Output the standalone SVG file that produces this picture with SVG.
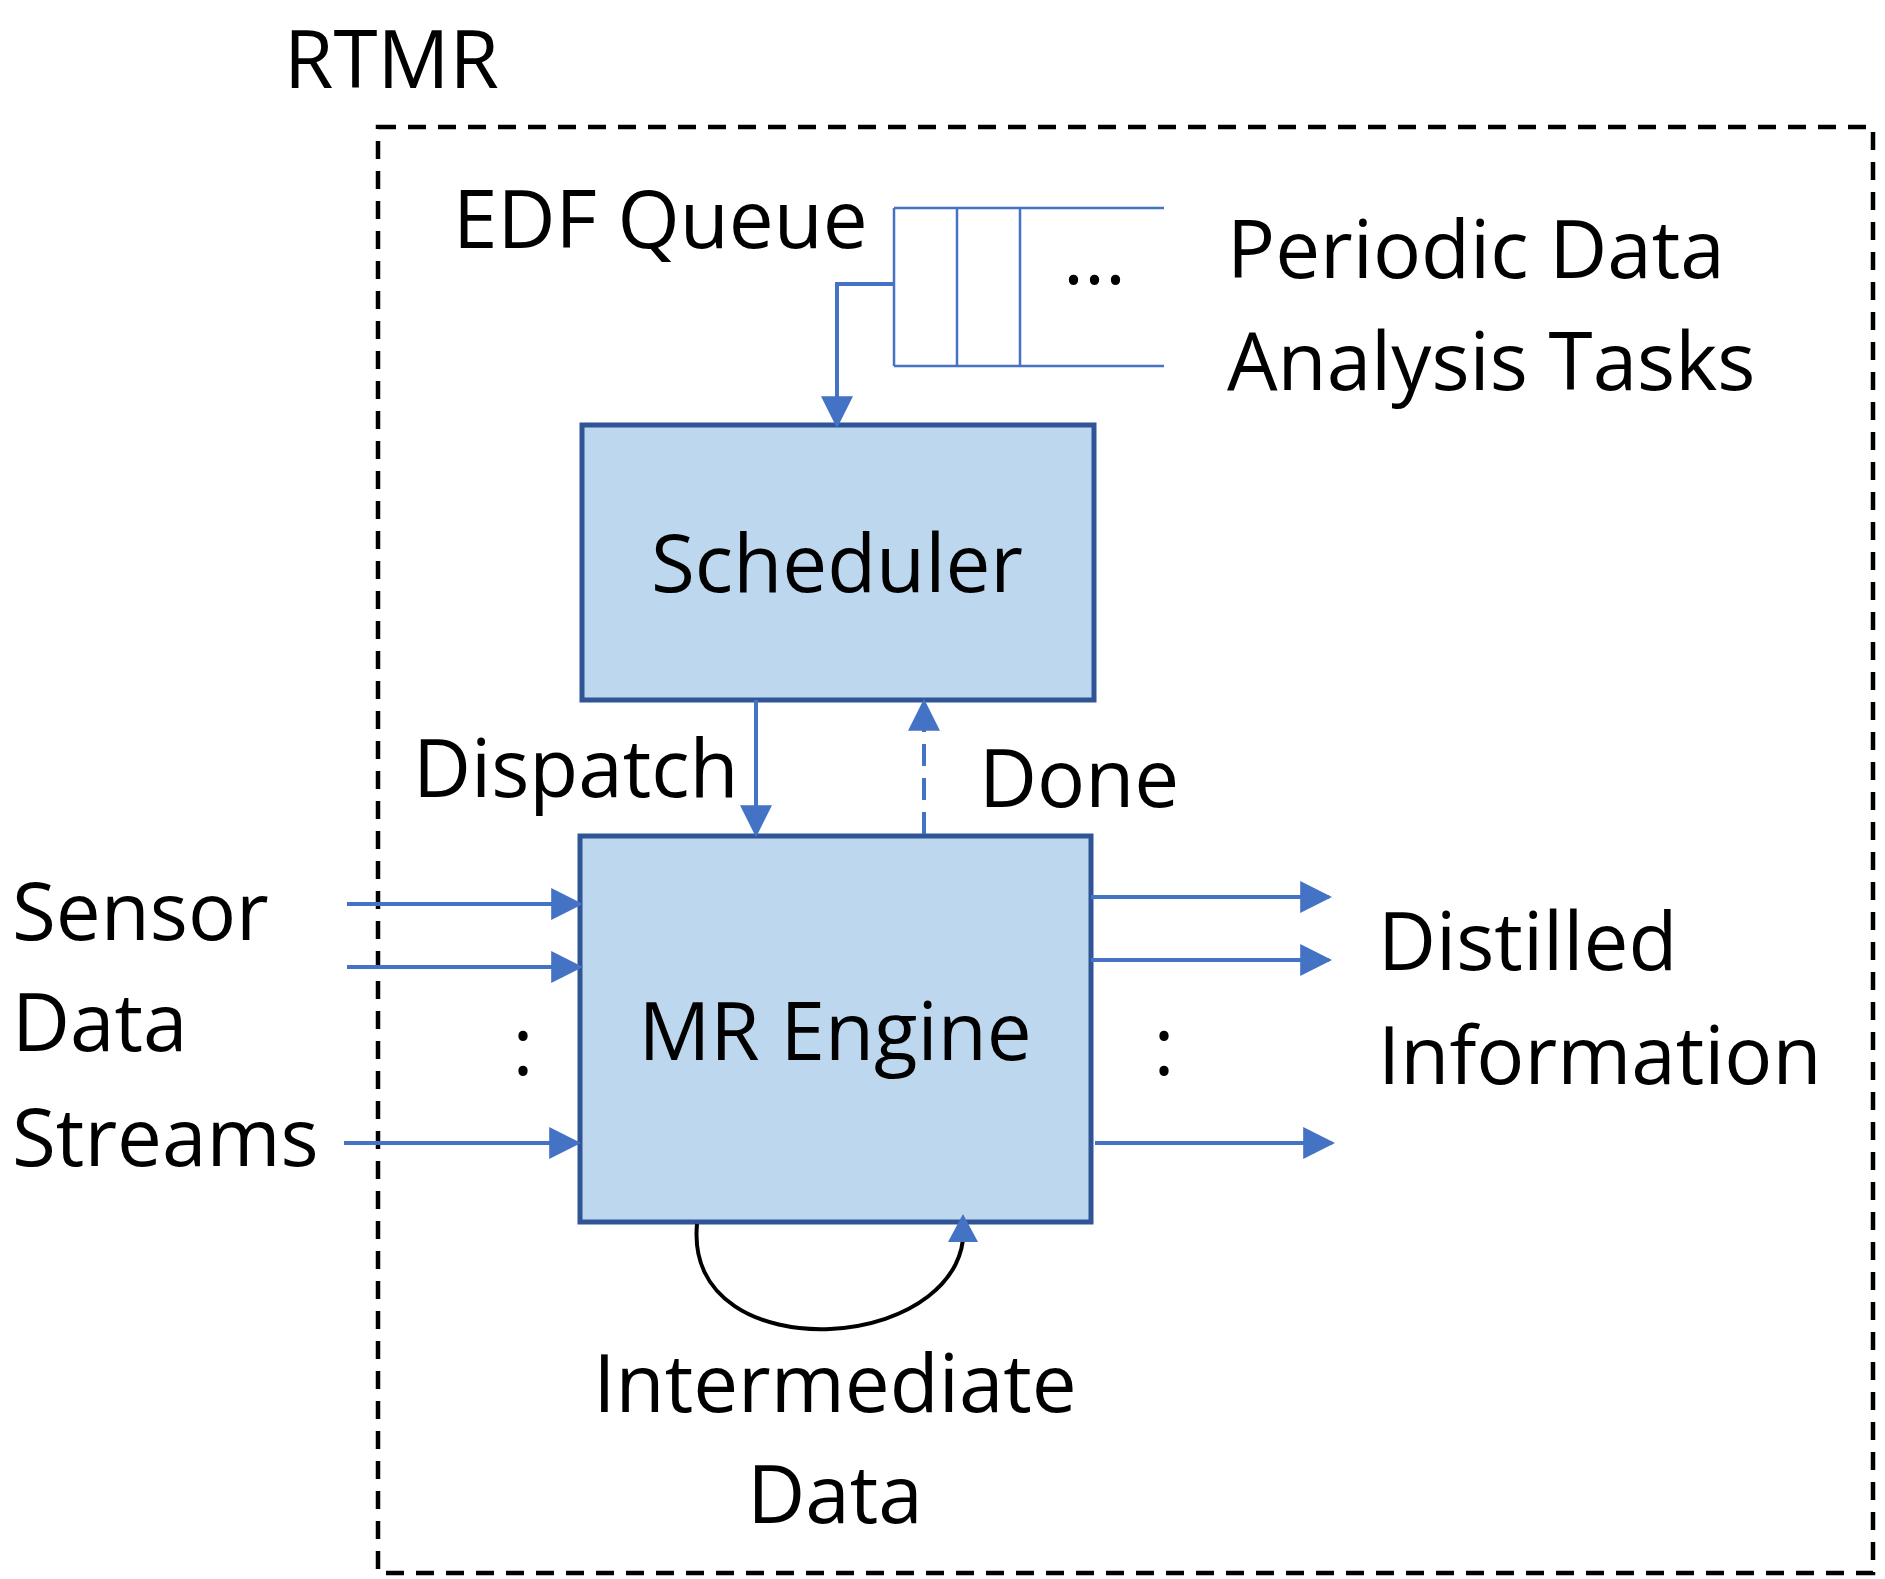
<svg xmlns="http://www.w3.org/2000/svg" width="1885" height="1579" viewBox="0 0 1885 1579">
<style>
text{font-family:"Open Sans","Liberation Sans",sans-serif;fill:#000;font-size:80px}
.box{fill:#bdd7ee;stroke:#2f5597;stroke-width:5}
.b{stroke:#4472c4;stroke-width:4;fill:none}
.q{stroke:#4472c4;stroke-width:2.5;fill:none}
</style>
<defs>
<marker id="a" viewBox="0 0 10 10" refX="9" refY="5" markerWidth="32" markerHeight="32" markerUnits="userSpaceOnUse" orient="auto"><path d="M0,0L10,5L0,10z" fill="#4472c4"/></marker>
</defs>
<text x="284" y="88" font-size="76">RTMR</text>
<rect x="378" y="127" width="1495" height="1446" fill="none" stroke="#000" stroke-width="4.5" stroke-dasharray="18,12"/>
<g id="queue">
<text x="453" y="248">EDF Queue</text>
<path class="q" d="M894,208H1164M894,366H1164M894,208V366M957,208V366M1020,208V366"/>
<text x="1063" y="284">...</text>
<text x="1227" y="278">Periodic Data</text>
<text x="1227" y="390">Analysis Tasks</text>
</g>
<g id="scheduler"><rect class="box" x="582" y="425" width="512" height="275"/><text x="837" y="592" text-anchor="middle" font-size="88">Scheduler</text></g>
<g id="engine"><rect class="box" x="580" y="836" width="511" height="386"/><text x="835" y="1060" text-anchor="middle" font-size="88">MR Engine</text></g>
<g id="labels">
<text x="413" y="797">Dispatch</text>
<text x="979" y="807">Done</text>
<text x="12" y="940">Sensor</text><text x="12" y="1051">Data</text><text x="12" y="1166">Streams</text>
<text x="523" y="1075" text-anchor="middle" font-size="100">:</text>
<text x="1164" y="1075" text-anchor="middle" font-size="100">:</text>
<text x="1378" y="970">Distilled</text><text x="1378" y="1084">Information</text>
<text x="835" y="1412" text-anchor="middle">Intermediate</text><text x="835" y="1523" text-anchor="middle">Data</text>
</g>
<g id="connectors">
<path class="b" d="M894,284H837V425" marker-end="url(#a)"/>
<path class="b" d="M756,700V834" marker-end="url(#a)"/>
<path class="b" d="M924,834V702" stroke-dasharray="22,12" marker-end="url(#a)"/>
<path class="b" d="M347,904H580" marker-end="url(#a)"/>
<path class="b" d="M347,967H580" marker-end="url(#a)"/>
<path class="b" d="M344,1143H578" marker-end="url(#a)"/>
<path class="b" d="M1091,897H1329" marker-end="url(#a)"/>
<path class="b" d="M1091,960H1329" marker-end="url(#a)"/>
<path class="b" d="M1095,1143H1332" marker-end="url(#a)"/>
<path d="M697,1224C690,1300 760,1332 830,1329C910,1325 968,1280 963,1226" fill="none" stroke="#000" stroke-width="4"/>
<path d="M963,1214L948,1242H978z" fill="#4472c4"/>
</g>
</svg>
